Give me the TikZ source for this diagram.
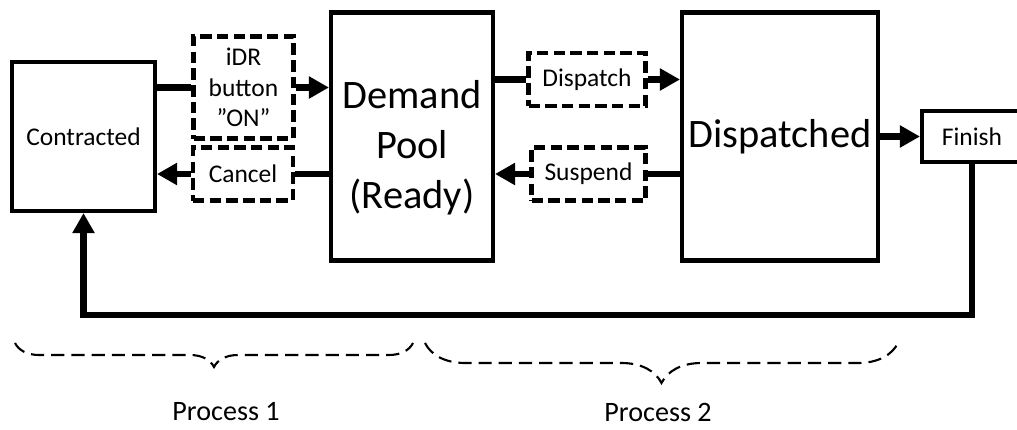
\documentclass[tikz,border=0pt]{standalone}
\usepackage{fontspec}
\setmainfont{Carlito}
\usetikzlibrary{shapes, arrows.meta, positioning, decorations.pathreplacing}

\begin{document}
\begin{tikzpicture}[auto, node distance=2cm, >={Triangle[length=0.4cm, width=0.42cm]}]
        % Define block styles
        \tikzstyle{block} = [draw, line width=2.3pt, rectangle, text centered, align=center, font=\fontsize{14.5}{17.5}\selectfont]
        \tikzstyle{big} = [block, minimum width=3.24cm, minimum height=4.96cm, font=\fontsize{23}{28.5}\selectfont]
        \tikzstyle{event} = [block, line width=2.4pt, dash pattern=on 6.5pt off 3pt, minimum width=2cm, minimum height=1.06cm]
        \tikzstyle{line} = [line width=3.7pt]
        \tikzstyle{brace} = [line width=1.2pt, dash pattern=on 7.5pt off 4pt, decorate]
        \tikzstyle{caption} = [font=\fontsize{16}{19}\selectfont]

        \useasboundingbox (0,0) rectangle (20.34,-8.6);

        % Nodes
        \node [block, minimum width=2.86cm, minimum height=2.98cm] (contracted) at (1.67,-2.73) {Contracted};
        \node [big, right of=contracted, node distance=6.57cm] (pool) {\rule{0pt}{1.02cm}Demand\\Pool\\(Ready)};
        \node [big, minimum width=3.92cm, right of=pool, node distance=7.36cm] (dispatched) {Dispatched};
        \node [block, minimum width=2.3cm, minimum height=1.02cm, right of=dispatched, node distance=3.99cm] (finish) {Finish\hspace{0.3cm}};
        \node [event, minimum height=2.04cm] (idr) at (4.87,-1.75) {iDR\\button\\”ON”};
        \node [event] (cancel) at (4.86,-3.48) {Cancel};
        \node [event, minimum width=2.34cm] (dispatch) at (11.74,-1.59) {Dispatch};
        \node [event, minimum width=2.28cm] (suspend) at (11.77,-3.48) {Suspend};
        \coordinate (loop) at (1.67,-6.3);
        \node [caption] (proc1) at (4.52,-8.24) {Process 1};
        \node [caption] (proc2) at (13.16,-8.24) {Process 2};

        % Edges
        \draw [line] (contracted.east |- idr.west) -- (idr.west);
        \draw [line, ->] (idr.east) -- (pool.west |- idr.east);
        \draw [line] (pool.west |- cancel.east) -- (cancel.east);
        \draw [line, ->] (cancel.west) -- (contracted.east |- cancel.west);
        \draw [line] (pool.east |- dispatch.west) -- (dispatch.west);
        \draw [line, ->] (dispatch.east) -- (dispatched.west |- dispatch.east);
        \draw [line] (dispatched.west |- suspend.east) -- (suspend.east);
        \draw [line, ->] (suspend.west) -- (pool.east |- suspend.west);
        \draw [line, ->] (dispatched) -- (finish);
        \draw [line, ->] (finish.south -| 19.44,0) |- (loop) -- (contracted.south);

        % Braces
        \draw [brace, decoration={brace, mirror, amplitude=0.48cm}] (0.3,-6.86) -- (8.26,-6.86);
        \draw [brace, decoration={brace, mirror, amplitude=0.8cm}] (8.5,-6.86) -- (17.96,-6.86);
\end{tikzpicture}
\end{document}
